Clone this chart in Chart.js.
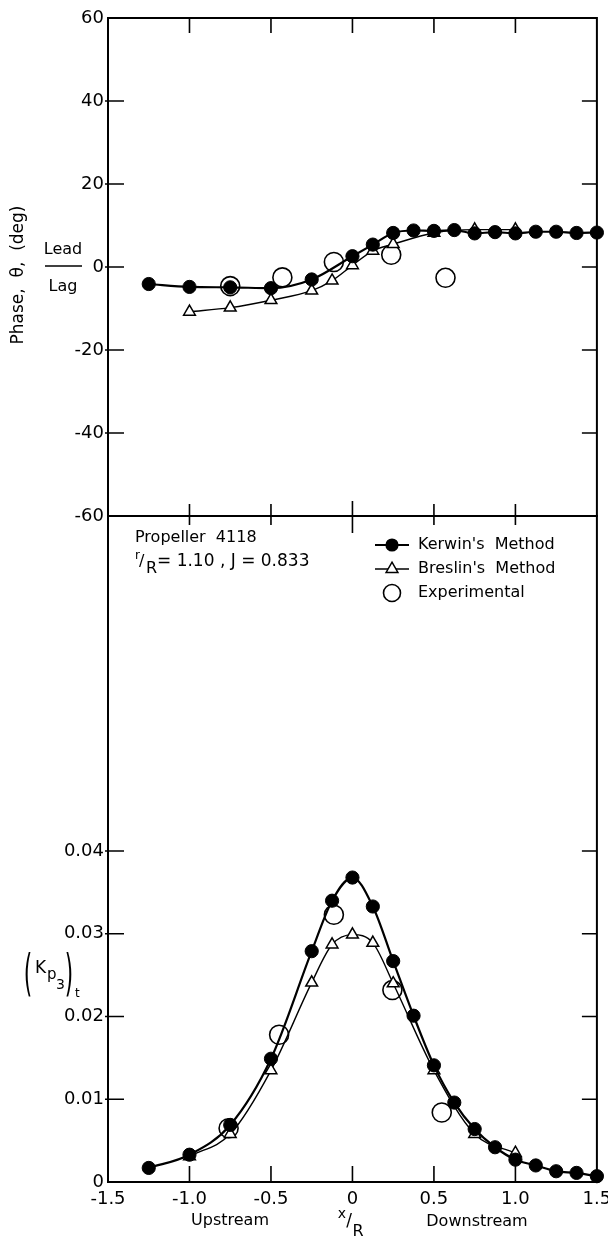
<!DOCTYPE html>
<html><head><meta charset="utf-8">
<script src="https://cdn.jsdelivr.net/npm/chart.js@4"></script>
<style>
html,body{margin:0;padding:0;background:#fff}
#wrap{position:relative;width:608px;height:1241px;background:#fff}
canvas{position:absolute;left:0}
</style>
</head><body>
<div id="wrap">
<canvas id="cTop" width="608" height="540" style="top:0;width:608px;height:540px"></canvas>
<canvas id="cBot" width="608" height="741" style="top:500px;width:608px;height:741px"></canvas>
</div>
<script>
// ---------- data ----------
const xTickValues = [-1.5, -1.0, -0.5, 0, 0.5, 1.0, 1.5];
const xTickLabels = ['-1.5', '-1.0', '-0.5', '0', '0.5', '1.0', '1.5'];
const phaseTicks = [-60, -40, -20, 0, 20, 40, 60];
const phaseTickLabels = ['-60', '-40', '-20', '0', '20', '40', '60'];
const kpTicks = [0, 0.01, 0.02, 0.03, 0.04];
const kpTickLabels = ['0', '0.01', '0.02', '0.03', '0.04'];

const seriesNames = ["Kerwin's  Method", "Breslin's  Method", "Experimental"];

// Phase (deg)
const phaseKerwinX = [-1.25, -1.0, -0.75, -0.5, -0.25, 0, 0.125, 0.25, 0.375, 0.5, 0.625, 0.75, 0.875, 1.0, 1.125, 1.25, 1.375, 1.5];
const phaseKerwinY = [-4.1, -4.8, -4.9, -5.1, -3.0, 2.6, 5.4, 8.2, 8.8, 8.7, 8.9, 8.1, 8.4, 8.1, 8.5, 8.5, 8.2, 8.3];
const phaseBreslinX = [-1.0, -0.75, -0.5, -0.25, -0.125, 0, 0.125, 0.25, 0.5, 0.75, 1.0];
const phaseBreslinY = [-10.8, -9.8, -8.0, -5.7, -3.3, 0.4, 3.9, 5.5, 8.2, 9.0, 9.0];
const phaseExpX = [-0.75, -0.43, -0.114, 0.238, 0.571];
const phaseExpY = [-4.6, -2.5, 1.2, 2.95, -2.6];

// (Kp3)t
const kpKerwinX = [-1.25, -1.0, -0.75, -0.5, -0.25, -0.125, 0, 0.125, 0.25, 0.375, 0.5, 0.625, 0.75, 0.875, 1.0, 1.125, 1.25, 1.375, 1.5];
const kpKerwinY = [0.0017, 0.0033, 0.0069, 0.0149, 0.0279, 0.0340, 0.0368, 0.0333, 0.0267, 0.0201, 0.0141, 0.0096, 0.0064, 0.0042, 0.0027, 0.0020, 0.0013, 0.0011, 0.0007];
const kpBreslinX = [-1.0, -0.75, -0.5, -0.25, -0.125, 0, 0.125, 0.25, 0.5, 0.75, 1.0];
const kpBreslinY = [0.0031, 0.0058, 0.0135, 0.0241, 0.0287, 0.0299, 0.0289, 0.0240, 0.0135, 0.0058, 0.0035];
const kpExpX = [-0.76, -0.45, -0.114, 0.245, 0.548];
const kpExpY = [0.0065, 0.0178, 0.0323, 0.0232, 0.0084];

// ---------- helpers ----------
const FONT = '"DejaVu Sans", "Liberation Sans", sans-serif';
const pts = (xs, ys) => xs.map((x, i) => ({ x: x, y: ys[i] }));

function datasets(kx, ky, bx, by, ex, ey) {
  return [
    { label: seriesNames[0], data: pts(kx, ky), showLine: true, borderColor: '#000', borderWidth: 2.2,
      pointStyle: 'circle', pointRadius: 6.6, pointBackgroundColor: '#000', pointBorderColor: '#000', pointBorderWidth: 1,
      cubicInterpolationMode: 'monotone', fill: false, clip: false },
    { label: seriesNames[1], data: pts(bx, by), showLine: true, borderColor: '#000', borderWidth: 1.4,
      pointStyle: 'triangle', pointRadius: 6.8, pointBackgroundColor: '#fff', pointBorderColor: '#000', pointBorderWidth: 1.5,
      cubicInterpolationMode: 'monotone', fill: false, clip: false },
    { label: seriesNames[2], data: pts(ex, ey), showLine: false, borderColor: '#000',
      pointStyle: 'circle', pointRadius: 9.5, pointBackgroundColor: 'rgba(0,0,0,0)', pointBorderColor: '#000', pointBorderWidth: 1.6,
      fill: false, clip: false }
  ];
}

function makeDecor(cfg) {
  return {
    id: 'decor' + cfg.name,
    beforeDatasetsDraw(chart) {
      const ctx = chart.ctx, a = chart.chartArea, xs = chart.scales.x, ys = chart.scales.y;
      ctx.save();
      ctx.strokeStyle = '#000';
      ctx.lineWidth = 2;
      ctx.strokeRect(a.left, a.top, a.right - a.left, a.bottom - a.top);
      ctx.lineWidth = 1.6;
      ctx.beginPath();
      xTickValues.forEach(v => {
        if (v <= xs.min || v >= xs.max) return;
        const px = xs.getPixelForValue(v);
        const t = v === 0 ? cfg.topZero : cfg.top;
        const b = v === 0 ? cfg.bottomZero : cfg.bottom;
        if (t) { ctx.moveTo(px, a.top - t[0]); ctx.lineTo(px, a.top + t[1]); }
        if (b) { ctx.moveTo(px, a.bottom + b[0]); ctx.lineTo(px, a.bottom - b[1]); }
      });
      cfg.yTicks.forEach(v => {
        if (v <= ys.min || v >= ys.max) return;
        const py = ys.getPixelForValue(v);
        ctx.moveTo(a.left - 3, py); ctx.lineTo(a.left + 16, py);
        ctx.moveTo(a.right, py); ctx.lineTo(a.right - 15, py);
      });
      ctx.stroke();
      ctx.restore();
    },
    afterDraw(chart) { cfg.text(chart.ctx, chart); }
  };
}

function xScale(showLabels) {
  return {
    type: 'linear', min: -1.5, max: 1.5, display: showLabels,
    grid: { display: false, drawTicks: false }, border: { display: false },
    afterBuildTicks: s => { s.ticks = xTickValues.map(v => ({ value: v })); },
    afterFit: s => { s.height = showLabels ? 59 : 0; s.paddingLeft = 0; s.paddingRight = 0; },
    ticks: { autoSkip: false, maxRotation: 0, padding: 7, color: '#000', font: { family: FONT, size: 18 },
      callback: v => { const i = xTickValues.indexOf(v); return i >= 0 ? xTickLabels[i] : ''; } }
  };
}
function yScale(min, max, vals, labels) {
  return {
    type: 'linear', min: min, max: max,
    grid: { display: false, drawTicks: false }, border: { display: false },
    afterBuildTicks: s => { s.ticks = vals.map(v => ({ value: v })); },
    afterFit: s => { s.width = 108; s.paddingTop = 0; s.paddingBottom = 0; },
    ticks: { autoSkip: false, padding: 4, color: '#000', font: { family: FONT, size: 18 },
      callback: v => { const i = vals.indexOf(v); return i >= 0 ? labels[i] : ''; } }
  };
}

function txt(ctx, s, x, y, size, align) {
  ctx.font = size + 'px ' + FONT;
  ctx.textAlign = align || 'left';
  ctx.textBaseline = 'middle';
  ctx.fillText(s, x, y);
}

// ---------- top chart ----------
function topText(ctx) {
  ctx.save();
  ctx.fillStyle = '#000';
  ctx.save();
  ctx.translate(19, 275);
  ctx.rotate(-Math.PI / 2);
  txt(ctx, 'Phase,  θ,  (deg)', 0, 0, 17, 'center');
  ctx.restore();
  txt(ctx, 'Lead', 63, 250, 16, 'center');
  txt(ctx, 'Lag', 63, 287, 16, 'center');
  ctx.strokeStyle = '#000'; ctx.lineWidth = 1.6;
  ctx.beginPath(); ctx.moveTo(45, 266); ctx.lineTo(82, 266); ctx.stroke();
  ctx.restore();
}

new Chart(document.getElementById('cTop'), {
  type: 'line',
  data: { datasets: datasets(phaseKerwinX, phaseKerwinY, phaseBreslinX, phaseBreslinY, phaseExpX, phaseExpY) },
  options: {
    responsive: false, animation: false, events: [],
    layout: { padding: { top: 18, right: 9, bottom: 24, left: 0 } },
    plugins: { legend: { display: false }, tooltip: { enabled: false } },
    scales: { x: xScale(false), y: yScale(-60, 60, phaseTicks, phaseTickLabels) }
  },
  plugins: [makeDecor({ name: 'Top', top: [0, 15], topZero: [0, 15], bottom: [0, 12], bottomZero: [0, 15], yTicks: phaseTicks, text: topText })]
});

// ---------- bottom chart (canvas offset 500px) ----------
function botText(ctx, chart) {
  const o = -500;
  ctx.save();
  ctx.fillStyle = '#000'; ctx.strokeStyle = '#000';
  // annotation
  txt(ctx, 'Propeller  4118', 135, 538 + o, 16);
  txt(ctx, 'r', 135, 556 + o, 12);
  txt(ctx, '/', 139, 562 + o, 16);
  txt(ctx, 'R', 146, 569 + o, 16);
  txt(ctx, '= 1.10 , J = 0.833', 157, 562 + o, 17);
  // legend
  const ds = chart.data.datasets;
  const rows = [545, 569, 593];
  const lx0 = 375, lx1 = 409, mx = 392, tx = 418;
  // row 1
  ctx.lineWidth = 2.2;
  ctx.beginPath(); ctx.moveTo(lx0, rows[0] + o); ctx.lineTo(lx1, rows[0] + o); ctx.stroke();
  ctx.beginPath(); ctx.arc(mx, rows[0] + o, 6.6, 0, Math.PI * 2); ctx.fill();
  // row 2
  ctx.lineWidth = 1.4;
  ctx.beginPath(); ctx.moveTo(lx0, rows[1] + o); ctx.lineTo(lx1, rows[1] + o); ctx.stroke();
  const r = 6.8, cy = rows[1] + o;
  ctx.beginPath();
  ctx.moveTo(mx, cy - r);
  ctx.lineTo(mx + r * Math.cos(Math.PI / 6), cy + r * 0.5);
  ctx.lineTo(mx - r * Math.cos(Math.PI / 6), cy + r * 0.5);
  ctx.closePath();
  ctx.fillStyle = '#fff'; ctx.fill(); ctx.lineWidth = 1.5; ctx.stroke();
  ctx.fillStyle = '#000';
  // row 3
  ctx.lineWidth = 1.6;
  ctx.beginPath(); ctx.arc(mx, rows[2] + o, 8.5, 0, Math.PI * 2); ctx.stroke();
  for (let i = 0; i < 3; i++) txt(ctx, ds[i].label, tx, rows[i] + o, 16);

  // y title (Kp3)t
  ctx.save();
  ctx.translate(28, 977 + o);
  ctx.scale(0.9, 2.1);
  txt(ctx, '(', 0, 0, 24, 'center');
  ctx.restore();
  ctx.save();
  ctx.translate(69, 977 + o);
  ctx.scale(0.9, 2.1);
  txt(ctx, ')', 0, 0, 24, 'center');
  ctx.restore();
  ctx.font = '17px ' + FONT; ctx.textAlign = 'left'; ctx.textBaseline = 'alphabetic';
  ctx.fillText('K', 35, 973 + o);
  ctx.font = '15px ' + FONT; ctx.fillText('p', 47, 979 + o);
  ctx.font = '14px ' + FONT; ctx.fillText('3', 56, 989 + o);
  ctx.font = '12px ' + FONT; ctx.fillText('t', 75, 997 + o);

  // x title
  txt(ctx, 'Upstream', 230, 1221 + o, 16, 'center');
  txt(ctx, 'Downstream', 477, 1222 + o, 16, 'center');
  txt(ctx, 'x', 342, 1214 + o, 14, 'center');
  txt(ctx, '/', 349, 1222 + o, 17, 'center');
  txt(ctx, 'R', 358, 1232 + o, 16, 'center');
  ctx.restore();
}

new Chart(document.getElementById('cBot'), {
  type: 'line',
  data: { datasets: datasets(kpKerwinX, kpKerwinY, kpBreslinX, kpBreslinY, kpExpX, kpExpY) },
  options: {
    responsive: false, animation: false, events: [],
    layout: { padding: { top: 16, right: 9, bottom: 0, left: 0 } },
    plugins: { legend: { display: false }, tooltip: { enabled: false } },
    scales: { x: xScale(true), y: yScale(0, 0.0805, kpTicks, kpTickLabels) }
  },
  plugins: [makeDecor({ name: 'Bot', top: [0, 9], topZero: [0, 17], bottom: [0, 16], bottomZero: [0, 16], yTicks: kpTicks, text: botText })]
});
</script>
</body></html>
